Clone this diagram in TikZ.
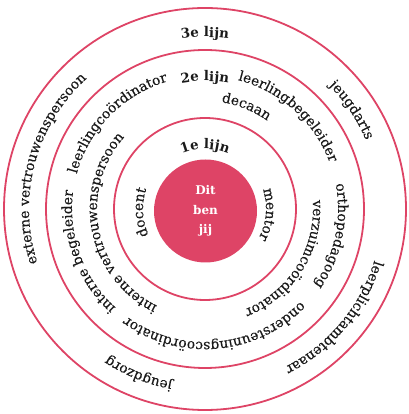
\documentclass[tikz,border=0pt]{standalone}
\usepackage{fontspec}
\setmainfont{DejaVu Serif}
\newfontfamily\ringfamily{DejaVu Serif}[FakeBold=0.3]
\usetikzlibrary{decorations.text}

\definecolor{lijnrood}{HTML}{DE4466}
\definecolor{tekstzwart}{HTML}{1A1A1A}

\newcommand{\ringfont}{\ringfamily\fontsize{13.8}{15}\selectfont}
\newcommand{\kopfont}{\fontsize{13.4}{15}\selectfont\bfseries}

% #1 half span, #2 radius, #3 middle angle, #4 text (clockwise)
\newcommand{\ringtekst}[4][85]{%
  \path [decorate, decoration={text along path, text align=center, text color=tekstzwart,
      text={#4}}]
    (mid) ++(#3+#1:#2) arc [start angle=#3+#1, end angle=#3-#1, radius=#2];
}

\tikzset{
  ring/.style={draw=lijnrood, line width=1.8pt},
  kern/.style={circle, fill=lijnrood, minimum size=103pt, inner sep=0pt,
    align=center, text=white, font=\bfseries\fontsize{12}{19.5}\selectfont},
}

\begin{document}
\begin{tikzpicture}[x=1pt, y=1pt]
  \useasboundingbox (0,0) rectangle (408,414);
  \coordinate (mid) at (205,205);

  \draw [ring] (mid) circle [radius=201];
  \draw [ring] (mid) circle [radius=159];
  \draw [ring] (mid) circle [radius=91];
  \node [kern] (jij) at (205.5,203) {Dit\\ben\\jij};

  % 3e lijn
  \ringtekst{172}{90}{|\kopfont|3e lijn}
  \ringtekst{175}{34}{|\ringfont|jeugdarts}
  \ringtekst{177}{-40}{|\ringfont|leerplichtambtenaar}
  \ringtekst{176}{-112}{|\ringfont|jeugdzorg}
  \ringtekst{176}{165}{|\ringfont|externe vertrouwenspersoon}

  % 2e lijn
  \ringtekst{128}{90}{|\kopfont|2e lijn}
  \ringtekst{133}{48}{|\ringfont|leerlingbegeleider}
  \ringtekst{133}{-12}{|\ringfont|orthopedagoog}
  \ringtekst{133}{-85}{|\ringfont|ondersteuningscoördinator}
  \ringtekst{133}{-160}{|\ringfont|interne begeleider}
  \ringtekst{133}{135.5}{|\ringfont|leerlingcoördinator}
  \ringtekst{108}{68}{|\ringfont|decaan}
  \ringtekst{108}{-32}{|\ringfont|verzuimcoördinator}
  \ringtekst{108}{-169}{|\ringfont|interne vertrouwenspersoon}

  % 1e lijn
  \ringtekst{60}{90}{|\kopfont|1e lijn}
  \ringtekst{62}{183}{|\ringfont|docent}
  \ringtekst{61}{-5}{|\ringfont|mentor}
\end{tikzpicture}
\end{document}
